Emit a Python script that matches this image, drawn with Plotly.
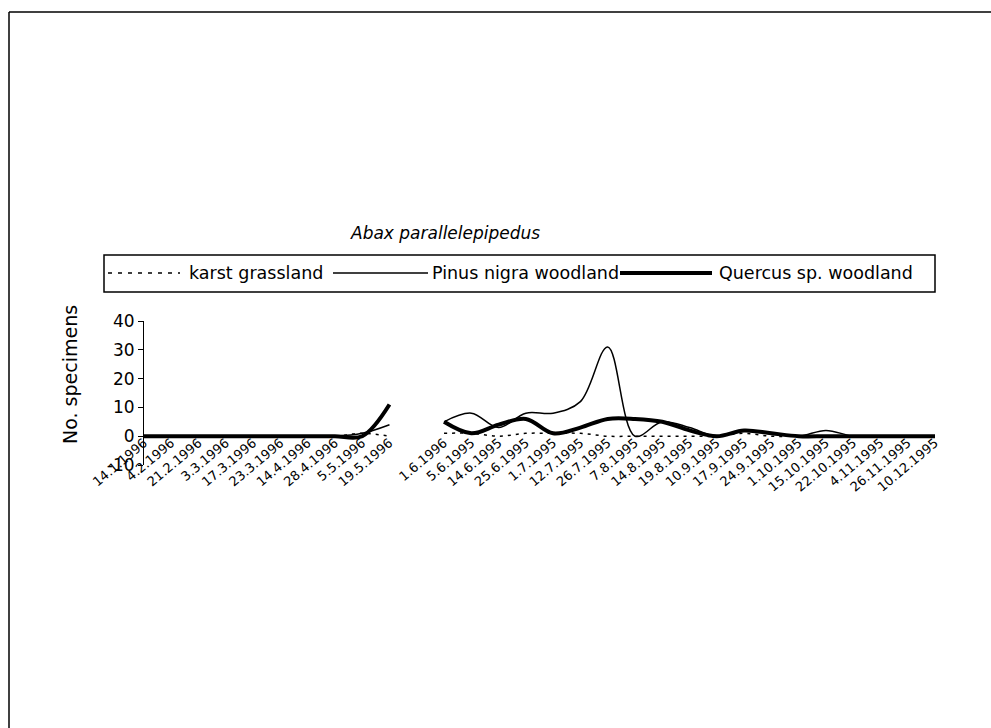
import plotly.graph_objects as go

# Sampling dates (a blank slot separates the 1996 run from the 1995 run)
dates = ["14.1.1996", "4.2.1996", "21.2.1996", "3.3.1996", "17.3.1996",
         "23.3.1996", "14.4.1996", "28.4.1996", "5.5.1996", "19.5.1996",
         " ",
         "1.6.1996", "5.6.1995", "14.6.1995", "25.6.1995", "1.7.1995",
         "12.7.1995", "26.7.1995", "7.8.1995", "14.8.1995", "19.8.1995",
         "10.9.1995", "17.9.1995", "24.9.1995", "1.10.1995", "15.10.1995",
         "22.10.1995", "4.11.1995", "26.11.1995", "10.12.1995"]

# Number of Abax parallelepipedus specimens caught per habitat
karst_grassland = [0, 0, 0, 0, 0, 0, 0, 0, 1, 0,
                   None,
                   1, 1, 0, 1, 1, 1, 0, 0, 0, 0,
                   0, 1, 0, 0, 0, 0, 0, 0, 0]
pinus_nigra = [0, 0, 0, 0, 0, 0, 0, 0, 1, 4,
               None,
               5, 8, 3, 8, 8, 12, 31, 0, 5, 3,
               0, 2, 1, 0, 2, 0, 0, 0, 0]
quercus_sp = [0, 0, 0, 0, 0, 0, 0, 0, 0, 11,
              None,
              5, 1, 4, 6, 1, 3, 6, 6, 5, 2,
              0, 2, 1, 0, 0, 0, 0, 0, 0]

y_ticks = [-10, 0, 10, 20, 30, 40]
y_tick_text = ["-10", "0", "10", "20", "30", "40"]

series = [
    ("karst grassland", karst_grassland, dict(width=1.5, dash="3px,5px")),
    ("Pinus nigra woodland", pinus_nigra, dict(width=1.5, dash="solid")),
    ("Quercus sp. woodland", quercus_sp, dict(width=4, dash="solid")),
]

W, H = 991, 728
PL, PR, PT, PB = 144, 935, 321, 465  # plot area in pixels


def fx(x):
    return (x - PL) / (PR - PL)


def fy(y):
    return (PB - y) / (PB - PT)


FONT = "DejaVu Sans"

fig = go.Figure()
for name, vals, style in series:
    fig.add_trace(go.Scatter(
        x=dates, y=vals, name=name, mode="lines",
        line=dict(shape="spline", smoothing=1, color="black", **style),
        connectgaps=False, showlegend=False,
    ))

shapes = [
    # outer frame
    dict(type="line", xref="paper", yref="paper", x0=fx(9), x1=fx(W + 5),
         y0=fy(12), y1=fy(12), line=dict(color="black", width=1.5)),
    dict(type="line", xref="paper", yref="paper", x0=fx(9), x1=fx(9),
         y0=fy(12), y1=fy(H + 5), line=dict(color="black", width=1.5)),
    # legend box
    dict(type="rect", xref="paper", yref="paper", x0=fx(104), x1=fx(935),
         y0=fy(292), y1=fy(255), line=dict(color="black", width=1.5)),
]

legend_items = [
    ("karst grassland", 108, 180, 187, dict(width=1.5, dash="4px,6px")),
    ("Pinus nigra woodland", 333, 428, 430, dict(width=1.5, dash="solid")),
    ("Quercus sp. woodland", 620, 712, 717, dict(width=4, dash="solid")),
]
annotations = []
for label, x0, x1, xt, st in legend_items:
    shapes.append(dict(type="line", xref="paper", yref="paper",
                       x0=fx(x0), x1=fx(x1), y0=fy(273), y1=fy(273),
                       line=dict(color="black", **st)))
    annotations.append(dict(text=label, xref="paper", yref="paper",
                            x=fx(xt), y=fy(273), xanchor="left",
                            yanchor="middle", showarrow=False,
                            font=dict(family=FONT, size=17.5, color="black")))

annotations.append(dict(text="<i>Abax parallelepipedus</i>", xref="paper",
                        yref="paper", x=fx(445), y=fy(233), xanchor="center",
                        yanchor="middle", showarrow=False,
                        font=dict(family=FONT, size=17, color="black")))
annotations.append(dict(text="No. specimens", xref="paper", yref="paper",
                        x=fx(70), y=fy(375), textangle=-90, xanchor="center",
                        yanchor="middle", showarrow=False,
                        font=dict(family=FONT, size=19, color="black")))

fig.update_layout(
    width=W, height=H,
    margin=dict(l=PL, r=W - PR, t=PT, b=H - PB, pad=0),
    paper_bgcolor="white", plot_bgcolor="white",
    showlegend=False,
    shapes=shapes, annotations=annotations,
    xaxis=dict(type="category", range=[0, len(dates) - 1],
               anchor="free", position=fy(432),
               showgrid=False, zeroline=False, showline=False, ticks="",
               tickangle=-40, tickfont=dict(family=FONT, size=13,
                                            color="black")),
    yaxis=dict(range=[-10, 40], tickvals=y_ticks, ticktext=y_tick_text,
               showgrid=False, zeroline=False, showline=True,
               linecolor="black", linewidth=1, ticks="outside", ticklen=5,
               tickcolor="black",
               tickfont=dict(family=FONT, size=17, color="black")),
)

fig.write_html("out.html")
